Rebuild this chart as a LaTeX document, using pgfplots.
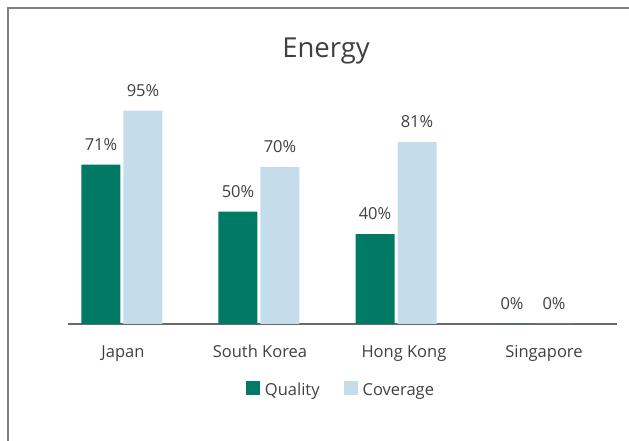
\documentclass[border=0pt]{standalone}
\usepackage{fontspec}
\setmainfont{Open Sans}
\usepackage{pgfplots}
\pgfplotsset{compat=1.18}
\definecolor{qgreen}{RGB}{0,121,101}
\definecolor{cblue}{RGB}{197,220,234}
\definecolor{txtgray}{RGB}{64,64,64}
\definecolor{axgray}{RGB}{105,105,105}
\definecolor{bordergray}{RGB}{128,128,128}
\begin{document}
\begin{tikzpicture}[x=1pt,y=1pt]
\useasboundingbox (0,0) rectangle (629,441);
\draw[bordergray, line width=2pt] (8,0) -- (8,433) -- (629,433);
\node[anchor=base, text=txtgray, font=\fontsize{27.5}{33}\selectfont, inner sep=0pt] at (326,383) {Energy};
\begin{axis}[
  at={(68pt,117pt)}, anchor=south west,
  scale only axis, width=549pt, height=224.5pt,
  xmin=-0.394, xmax=3.613, ymin=0, ymax=100,
  ybar=3pt, bar width=39pt,
  axis x line=bottom, axis y line=none,
  x axis line style={-, draw=axgray, line width=2.2pt},
  xtick={0.007,1.007,2.058,3.08},
  xticklabels={Japan, South Korea, Hong Kong, Singapore},
  major tick length=0pt,
  /pgf/number format/assume math mode=true,
  xticklabel style={text=txtgray, font=\fontsize{16.5}{20}\selectfont, inner sep=0pt, text height=12pt, text depth=4pt, yshift=-21pt},
  nodes near coords={\pgfmathprintnumber{\pgfplotspointmeta}\%},
  nodes near coords style={text=txtgray, font=\fontsize{16.5}{20}\selectfont, anchor=south, inner sep=0pt, text depth=0pt, yshift=14pt},
  legend columns=2,
  legend style={at={(0.5,-0.2895)}, anchor=center, draw=none, fill=none,
    font=\fontsize{16.5}{20}\selectfont, text=txtgray,
    /tikz/every even column/.append style={column sep=20pt},
    nodes={inner sep=0pt, inner xsep=4.5pt}},
  legend image code/.code={\fill[#1] (0pt,-5pt) rectangle (14pt,9pt);},
  clip=false,
]
\addplot[fill=qgreen, draw=none] coordinates {(0,71) (1,50) (2,40) (3,0)};
\addplot[fill=cblue, draw=none] coordinates {(0,95) (1,70) (2,81) (3,0)};
\legend{Quality, Coverage}
\end{axis}
\end{tikzpicture}
\end{document}
